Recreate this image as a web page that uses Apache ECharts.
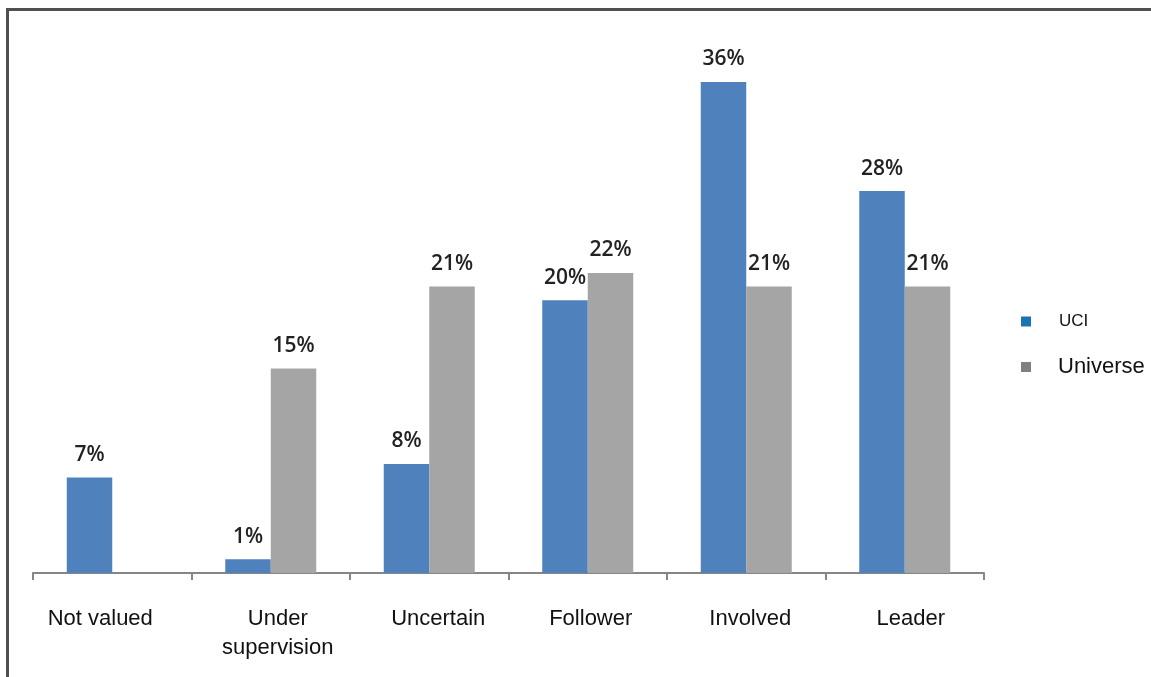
<!DOCTYPE html>
<html>
<head>
<meta charset="utf-8">
<script src="https://cdn.jsdelivr.net/npm/echarts@6/dist/echarts.min.js"></script>
<style>
html,body{margin:0;padding:0;background:#fff;}
#frame{position:absolute;left:6px;top:8px;width:1200px;height:700px;border-left:3px solid #50514c;border-top:3px solid #50514c;box-sizing:border-box;}
#chart{position:absolute;left:0;top:0;width:1151px;height:677px;}
</style>
</head>
<body>
<div id="frame"></div>
<div id="chart"></div>
<script>
const categories = ['Not valued', 'Under\nsupervision', 'Uncertain', 'Follower', 'Involved', 'Leader'];
const uciValues = [7, 1, 8, 20, 36, 28];
const universeValues = [null, 15, 21, 22, 21, 21];
const seriesNames = ['UCI', 'Universe'];
// horizontal nudge of each category label (px), as in the original layout
const labelShift = [-12, 7, 9, 3, 4, 6];

const chart = echarts.init(document.getElementById('chart'), null, {renderer: 'canvas'});
const labelStyle = {
  show: true, position: 'top', distance: 12,
  formatter: p => p.value == null ? '' : p.value + '%',
  fontFamily: 'Open Sans', fontWeight: 600, fontSize: 21, color: '#222'
};
const axisFont = 'Liberation Sans Narrow, Liberation Sans, Arial';
chart.setOption({
  backgroundColor: 'transparent',
  animation: false,
  grid: {left: 33, right: 167, top: 27.4, bottom: 104},
  legend: [
    {data: [{name: seriesNames[0], itemStyle: {color: '#1a74b4'}}], orient: 'vertical', left: 1016, top: 308,
     itemWidth: 10, itemHeight: 10, icon: 'rect',
     textStyle: {fontFamily: axisFont, fontSize: 17, color: '#111', padding: [0,0,0,23]}},
    {data: [{name: seriesNames[1], itemStyle: {color: '#808080'}}], orient: 'vertical', left: 1016, top: 351,
     itemWidth: 10, itemHeight: 10, icon: 'rect',
     textStyle: {fontFamily: axisFont, fontSize: 22, color: '#111', padding: [0,0,0,22]}}
  ],
  xAxis: {
    type: 'category',
    data: categories.map((c, i) => ({
      value: c,
      textStyle: {padding: labelShift[i] >= 0 ? [0, 0, 0, 2 * labelShift[i]] : [0, -2 * labelShift[i], 0, 0]}
    })),
    axisLine: {lineStyle: {color: '#868686', width: 2}},
    axisTick: {show: true, length: 7, lineStyle: {color: '#868686', width: 2}},
    axisLabel: {fontFamily: axisFont, fontSize: 22, color: '#111', margin: 31, lineHeight: 29, interval: 0}
  },
  yAxis: {
    type: 'value', min: 0, max: 40, show: false, splitLine: {show: false}
  },
  series: [
    {name: seriesNames[0], type: 'bar', data: uciValues, barGap: '0%', barCategoryGap: '42.6%',
     itemStyle: {color: '#4f81bd'}, label: labelStyle},
    {name: seriesNames[1], type: 'bar', data: universeValues,
     itemStyle: {color: '#a5a5a5'}, label: labelStyle}
  ]
});
</script>
</body>
</html>
